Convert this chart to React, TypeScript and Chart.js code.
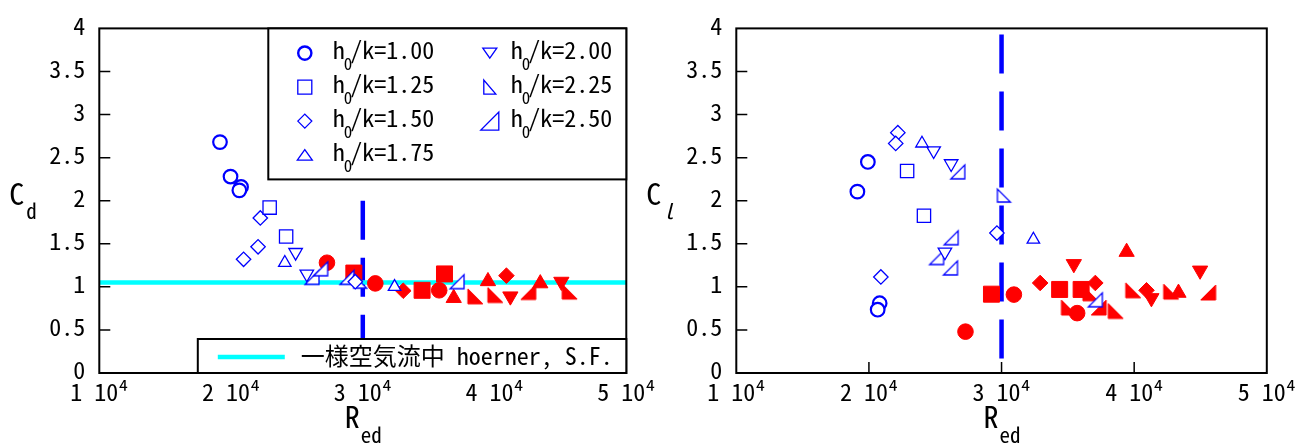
import React, { useEffect, useRef } from "react";
import { Chart, registerables } from "chart.js";

Chart.register(...registerables);

type Pt = [number, number];

// ---------- axes ----------
const reTicks = [10000, 20000, 30000, 40000, 50000];
const reTickLabels = ["1 10⁴", "2 10⁴", "3 10⁴", "4 10⁴", "5 10⁴"];
const coefTicks = [0, 0.5, 1, 1.5, 2, 2.5, 3, 3.5, 4];
const coefTickLabels = ["0", "0.5", "1", "1.5", "2", "2.5", "3", "3.5", "4"];
const innerTicksY = [0.5, 1, 1.5, 2, 2.5, 3, 3.5];
const innerTicksX = [20000, 30000, 40000];

// ---------- series ----------
const ratioLabels = ["1.00", "1.25", "1.50", "1.75", "2.00", "2.25", "2.50"];

// Cd : open (blue) points
const cdOpen100: Pt[] = [[19160, 2.68], [19960, 2.28], [20760, 2.16], [20630, 2.12]];
const cdOpen125: Pt[] = [[22930, 1.92], [24180, 1.585]];
const cdOpen150: Pt[] = [[22220, 1.8], [22050, 1.465], [20950, 1.32], [29430, 1.06]];
const cdOpen175: Pt[] = [[24080, 1.28], [32410, 1.0]];
const cdOpen200: Pt[] = [[24900, 1.4], [25750, 1.15]];
const cdOpen225: Pt[] = [[29800, 1.06]];
const cdOpen250: Pt[] = [[26140, 1.11], [26800, 1.21], [28800, 1.11], [37150, 1.06]];
// Cd : filled (red) points
const cdFill100: Pt[] = [[27280, 1.28], [30950, 1.04], [35800, 0.96]];
const cdFill125: Pt[] = [[29320, 1.16], [34500, 0.96], [36200, 1.15]];
const cdFill150: Pt[] = [[33070, 0.955], [40900, 1.13]];
const cdFill175: Pt[] = [[36900, 0.87], [39500, 1.065], [43470, 1.04]];
const cdFill200: Pt[] = [[41200, 0.89], [45070, 1.06]];
const cdFill225: Pt[] = [[38540, 0.89], [40060, 0.905], [45700, 0.945]];
const cdFill250: Pt[] = [[42560, 0.94]];

// Cl : open (blue) points
const clOpen100: Pt[] = [[19920, 2.45], [19130, 2.105], [20810, 0.81], [20660, 0.735]];
const clOpen125: Pt[] = [[22880, 2.345], [24150, 1.826]];
const clOpen150: Pt[] = [[22180, 2.79], [22020, 2.665], [20900, 1.115], [29650, 1.625]];
const clOpen175: Pt[] = [[24000, 2.665], [32400, 1.55]];
const clOpen200: Pt[] = [[24880, 2.58], [26200, 2.43], [25730, 1.405]];
const clOpen225: Pt[] = [[30180, 2.06]];
const clOpen250: Pt[] = [[26700, 2.335], [26200, 1.57], [25100, 1.34], [26150, 1.22], [37070, 0.85]];
// Cl : filled (red) points
const clFill100: Pt[] = [[27280, 0.48], [30930, 0.91], [35700, 0.695]];
const clFill125: Pt[] = [[29240, 0.915], [34380, 0.97], [36000, 0.97]];
const clFill150: Pt[] = [[32910, 1.045], [37070, 1.045], [40930, 0.96]];
const clFill175: Pt[] = [[39430, 1.405], [43340, 0.93]];
const clFill200: Pt[] = [[35450, 1.265], [44970, 1.19], [41300, 0.87]];
const clFill225: Pt[] = [[36700, 0.925], [35080, 0.76], [38610, 0.72], [39930, 0.96], [42790, 0.945]];
const clFill250: Pt[] = [[37320, 0.76], [45580, 0.935]];

// reference values
const hoernerCd = 1.05;
const hoernerLabel = "一様空気流中 hoerner, S.F.";
const criticalRe = 30000;
const cdCriticalSpan = [2.0, 0];
const clCriticalSpan = [3.93, 0];

// ---------- styles ----------
const FONT = '"Noto Sans Mono CJK JP", "Noto Sans CJK JP", "DejaVu Sans Mono", monospace';
const BLUE = "#0000ff";
const RED = "#ff0000";
const CYAN = "#00ffff";
const SHAPES = ["circle", "rect", "rectRot", "triangle", "inv", "ll", "lr"];

function triCanvas(kind: string, s: number, fill: string, stroke: string, lw: number) {
  const pad = Math.ceil(lw) + 1;
  const c = document.createElement("canvas");
  c.width = s + 2 * pad;
  c.height = s + 2 * pad;
  const g = c.getContext("2d")!;
  g.beginPath();
  if (kind === "ll") {
    g.moveTo(pad, pad);
    g.lineTo(pad, pad + s);
    g.lineTo(pad + s, pad + s);
  } else {
    g.moveTo(pad + s, pad);
    g.lineTo(pad + s, pad + s);
    g.lineTo(pad, pad + s);
  }
  g.closePath();
  g.fillStyle = fill;
  g.fill();
  g.lineWidth = lw;
  g.strokeStyle = stroke;
  g.lineJoin = "miter";
  g.stroke();
  return c;
}

function markerDataset(points: Pt[], idx: number, filled: boolean, imgs: any) {
  const shape = SHAPES[idx];
  const openR: any = { circle: 6.8, rect: 9.4, rectRot: 7.2, triangle: 7.2, inv: 7.8 };
  const fillR: any = { circle: 7.8, rect: 11.3, rectRot: 7.8, triangle: 8.8, inv: 8.8 };
  let style: any = shape === "inv" ? "triangle" : shape;
  if (shape === "ll" || shape === "lr") style = imgs[(filled ? "f" : "o") + shape];
  const radius = style && typeof style === "object" ? 8 : (filled ? fillR : openR)[shape];
  return {
    label: "h0/k=" + ratioLabels[idx],
    data: points.map(([x, y]) => ({ x, y })),
    showLine: false,
    pointStyle: style,
    pointRotation: shape === "inv" ? 180 : 0,
    pointRadius: radius,
    pointBorderWidth: filled ? 1 : shape === "circle" ? 2.2 : 1.3,
    pointBackgroundColor: filled ? RED : "#ffffff",
    pointBorderColor: filled ? RED : BLUE,
    order: filled ? 2 : 1,
  };
}

function lineDataset(pts: Pt[], color: string, width: number, dash: number[], order: number) {
  return {
    label: "",
    data: pts.map(([x, y]) => ({ x, y })),
    showLine: true,
    borderColor: color,
    borderWidth: width,
    borderDash: dash,
    pointRadius: 0,
    fill: false,
    order,
  };
}

function drawLegendMarker(ctx: CanvasRenderingContext2D, shape: string, x: number, y: number) {
  ctx.save();
  ctx.strokeStyle = BLUE;
  ctx.fillStyle = "#fff";
  ctx.lineWidth = 1.3;
  ctx.beginPath();
  switch (shape) {
    case "circle":
      ctx.lineWidth = 2.4;
      ctx.arc(x, y, 6.6, 0, Math.PI * 2);
      break;
    case "rect":
      ctx.rect(x - 7, y - 7, 14, 14);
      break;
    case "rectRot":
      ctx.moveTo(x - 7, y);
      ctx.lineTo(x, y - 7);
      ctx.lineTo(x + 7, y);
      ctx.lineTo(x, y + 7);
      ctx.closePath();
      break;
    case "triangle":
      ctx.moveTo(x, y - 5.5);
      ctx.lineTo(x + 7.5, y + 5);
      ctx.lineTo(x - 7.5, y + 5);
      ctx.closePath();
      break;
    case "inv":
      ctx.moveTo(x - 7, y - 5);
      ctx.lineTo(x + 7, y - 5);
      ctx.lineTo(x, y + 5);
      ctx.closePath();
      break;
    case "ll":
      ctx.moveTo(x - 6, y - 7);
      ctx.lineTo(x - 6, y + 7);
      ctx.lineTo(x + 6, y + 7);
      ctx.closePath();
      break;
    case "lr":
      ctx.moveTo(x + 9, y - 9);
      ctx.lineTo(x + 9, y + 9);
      ctx.lineTo(x - 9, y + 9);
      ctx.closePath();
      break;
  }
  ctx.fill();
  ctx.stroke();
  ctx.restore();
}

function framePlugin(sub: string, italicSub: boolean) {
  return {
    id: "frame",
    beforeDatasetsDraw(chart: any) {
      const { ctx, chartArea: a, scales } = chart;
      ctx.save();
      ctx.strokeStyle = "#000";
      ctx.lineWidth = 1.5;
      ctx.beginPath();
      innerTicksY.forEach((v) => {
        const py = scales.y.getPixelForValue(v);
        ctx.moveTo(a.left, py);
        ctx.lineTo(a.left + 11, py);
      });
      innerTicksX.forEach((v) => {
        const px = scales.x.getPixelForValue(v);
        ctx.moveTo(px, a.bottom);
        ctx.lineTo(px, a.bottom - 11);
      });
      ctx.stroke();
      ctx.restore();
    },
    afterDatasetsDraw(chart: any) {
      const { ctx, chartArea: a } = chart;
      ctx.save();
      ctx.strokeStyle = "#000";
      ctx.lineWidth = 2;
      ctx.strokeRect(a.left, a.top, a.right - a.left, a.bottom - a.top);
      ctx.restore();
    },
    afterDraw(chart: any) {
      const { ctx, chartArea: a } = chart;
      ctx.save();
      ctx.fillStyle = "#000";
      ctx.textBaseline = "alphabetic";
      ctx.textAlign = "left";
      // y title
      ctx.font = `30px ${FONT}`;
      ctx.fillText("C", a.left - 90, a.top + 177);
      ctx.font = `${italicSub ? "italic " : ""}21px ${FONT}`;
      ctx.fillText(sub, a.left - 73, a.top + 191);
      // x title
      const cx = (a.left + a.right) / 2;
      ctx.font = `30px ${FONT}`;
      ctx.fillText("R", cx - 18, a.bottom + 55);
      ctx.font = `21px ${FONT}`;
      ctx.fillText("ed", cx - 2, a.bottom + 70);
      ctx.restore();
    },
  };
}

const cdLegendPlugin = {
  id: "cdLegend",
  afterDatasetsDraw(chart: any) {
    const { ctx, chartArea: a } = chart;
    ctx.save();
    // top legend box
    const bw = 358;
    const bh = 151;
    const bx = a.right - bw;
    const by = a.top;
    ctx.fillStyle = "#fff";
    ctx.fillRect(bx, by, bw, bh);
    ctx.strokeStyle = "#000";
    ctx.lineWidth = 2;
    ctx.strokeRect(bx, by, bw, bh);
    ratioLabels.forEach((lab, i) => {
      const col = i < 4 ? 0 : 1;
      const row = i < 4 ? i : i - 4;
      const my = by + 24.7 + row * 34;
      const mx = bx + (col ? 221.5 : 36.5);
      drawLegendMarker(ctx, SHAPES[i], mx, my);
      const tx = bx + (col ? 242.4 : 64.4);
      const base = my + 6;
      ctx.fillStyle = "#000";
      ctx.textBaseline = "alphabetic";
      ctx.textAlign = "left";
      ctx.font = `24px ${FONT}`;
      ctx.fillText("h", tx, base);
      ctx.font = `17px ${FONT}`;
      ctx.fillText("0", tx + 11, base + 11);
      ctx.font = `24px ${FONT}`;
      ctx.fillText("/k=" + lab, tx + 17.5, base);
    });
    // bottom legend box
    const b2w = 428.5;
    const b2h = 34;
    const b2x = a.right - b2w;
    const b2y = a.bottom - b2h;
    ctx.fillStyle = "#fff";
    ctx.fillRect(b2x, b2y, b2w, b2h);
    ctx.strokeStyle = "#000";
    ctx.lineWidth = 2;
    ctx.strokeRect(b2x, b2y, b2w, b2h);
    ctx.strokeStyle = CYAN;
    ctx.lineWidth = 4.5;
    ctx.beginPath();
    ctx.moveTo(b2x + 20, b2y + 18);
    ctx.lineTo(b2x + 87, b2y + 18);
    ctx.stroke();
    ctx.fillStyle = "#000";
    ctx.font = `24px ${FONT}`;
    ctx.textBaseline = "middle";
    ctx.fillText(hoernerLabel, b2x + 103, b2y + 17);
    ctx.restore();
  },
};

function baseOptions(padRight: number): any {
  return {
    responsive: false,
    animation: false,
    events: [],
    layout: { padding: { top: 21, right: padRight, left: 0, bottom: 0 } },
    plugins: { legend: { display: false }, tooltip: { enabled: false } },
    scales: {
      x: {
        type: "linear",
        min: 10000,
        max: 50000,
        grid: { display: false, drawTicks: false },
        border: { display: false },
        afterBuildTicks: (s: any) => {
          s.ticks = reTicks.map((v) => ({ value: v }));
        },
        afterFit: (s: any) => {
          s.height = 73;
        },
        ticks: {
          autoSkip: false,
          maxRotation: 0,
          minRotation: 0,
          padding: 4,
          color: "#000",
          font: { family: FONT, size: 24 },
          callback: (v: number) => {
            const i = reTicks.indexOf(v);
            return i >= 0 ? reTickLabels[i] : "";
          },
        },
      },
      y: {
        type: "linear",
        min: 0,
        max: 4,
        grid: { display: false, drawTicks: false },
        border: { display: false },
        afterBuildTicks: (s: any) => {
          s.ticks = coefTicks.map((v) => ({ value: v }));
        },
        afterFit: (s: any) => {
          s.width = 99.3;
        },
        ticks: {
          autoSkip: false,
          padding: 14,
          labelOffset: -3,
          color: "#000",
          font: { family: FONT, size: 24 },
          callback: (v: number) => {
            const i = coefTicks.indexOf(v);
            return i >= 0 ? coefTickLabels[i] : "";
          },
        },
      },
    },
  };
}

export default function App() {
  const leftRef = useRef<HTMLCanvasElement>(null);
  const rightRef = useRef<HTMLCanvasElement>(null);

  useEffect(() => {
    const imgs = {
      oll: triCanvas("ll", 13, "#ffffff", BLUE, 1.3),
      olr: triCanvas("lr", 14, "#ffffff", BLUE, 1.3),
      fll: triCanvas("ll", 15, RED, RED, 1),
      flr: triCanvas("lr", 15, RED, RED, 1),
    };
    const cdOpen = [cdOpen100, cdOpen125, cdOpen150, cdOpen175, cdOpen200, cdOpen225, cdOpen250];
    const cdFill = [cdFill100, cdFill125, cdFill150, cdFill175, cdFill200, cdFill225, cdFill250];
    const clOpen = [clOpen100, clOpen125, clOpen150, clOpen175, clOpen200, clOpen225, clOpen250];
    const clFill = [clFill100, clFill125, clFill150, clFill175, clFill200, clFill225, clFill250];

    const leftData: any[] = [
      ...cdOpen.map((p, i) => markerDataset(p, i, false, imgs)),
      ...cdFill.map((p, i) => markerDataset(p, i, true, imgs)),
      lineDataset([[10000, hoernerCd], [50000, hoernerCd]], CYAN, 4.5, [], 5),
      lineDataset([[criticalRe, cdCriticalSpan[0]], [criticalRe, cdCriticalSpan[1]]], BLUE, 4.5, [39, 18], 6),
    ];
    const rightData: any[] = [
      ...clOpen.map((p, i) => markerDataset(p, i, false, imgs)),
      ...clFill.map((p, i) => markerDataset(p, i, true, imgs)),
      lineDataset([[criticalRe, clCriticalSpan[0]], [criticalRe, clCriticalSpan[1]]], BLUE, 4.5, [39, 18], 6),
    ];

    const left = new Chart(leftRef.current!, {
      type: "scatter",
      data: { datasets: leftData },
      options: baseOptions(660 - 626.3),
      plugins: [framePlugin("d", false), cdLegendPlugin],
    } as any);
    const right = new Chart(rightRef.current!, {
      type: "scatter",
      data: { datasets: rightData },
      options: baseOptions(674 - 629.8),
      plugins: [framePlugin("l", true)],
    } as any);
    return () => {
      left.destroy();
      right.destroy();
    };
  }, []);

  return (
    <div style={{ position: "absolute", left: 0, top: 0, width: 1311, height: 446, background: "#fff", overflow: "hidden" }}>
      <canvas ref={leftRef} width={660} height={446} style={{ position: "absolute", left: 0, top: 0 }} />
      <canvas ref={rightRef} width={674} height={446} style={{ position: "absolute", left: 637, top: 0 }} />
    </div>
  );
}
